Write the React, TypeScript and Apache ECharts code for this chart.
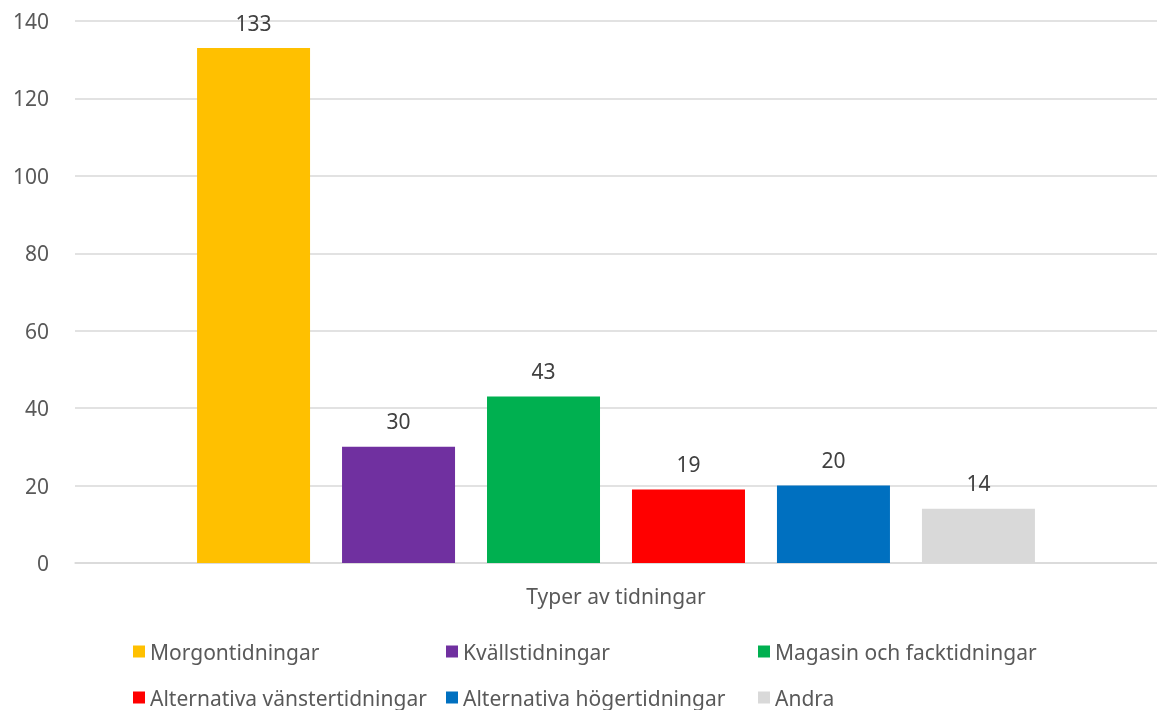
import React, { useEffect, useRef } from "react";
import * as echarts from "echarts";

const category = ["Typer av tidningar"];
const seriesNames = [
  "Morgontidningar",
  "Kvällstidningar",
  "Magasin och facktidningar",
  "Alternativa vänstertidningar",
  "Alternativa högertidningar",
  "Andra",
];
const seriesValues = [133, 30, 43, 19, 20, 14];
const seriesColors = ["#FFC000", "#7030A0", "#00B050", "#FF0000", "#0070C0", "#D9D9D9"];
const yTicks = { min: 0, max: 140, interval: 20 };

const FONT = "'Noto Sans', 'Open Sans', sans-serif";
const legendPos = [
  { left: 133, top: 641 },
  { left: 446, top: 641 },
  { left: 758, top: 641 },
  { left: 133, top: 687 },
  { left: 446, top: 687 },
  { left: 758, top: 687 },
];

export default function App() {
  const ref = useRef<HTMLDivElement>(null);
  useEffect(() => {
    if (!ref.current) return;
    const chart = echarts.init(ref.current, null, { renderer: "svg" });
    chart.setOption({
      animation: false,
      textStyle: { fontFamily: FONT },
      grid: { left: 75, right: -1, top: 21, bottom: 147, containLabel: false },
      legend: seriesNames.map((n, i) => ({
        data: [n],
        left: legendPos[i].left,
        top: legendPos[i].top,
        padding: 0,
        itemWidth: 12,
        itemHeight: 12,
        icon: "rect",
        selectedMode: false,
        textStyle: { fontSize: 21, color: "#595959", fontFamily: FONT },
      })),
      xAxis: {
        type: "category",
        data: category,
        axisLine: { show: true, lineStyle: { color: "#D9D9D9", width: 1.5 } },
        axisTick: { show: false },
        axisLabel: { fontSize: 21, color: "#595959", margin: 22, fontFamily: FONT },
      },
      yAxis: {
        type: "value",
        min: yTicks.min,
        max: yTicks.max,
        interval: yTicks.interval,
        axisLine: { show: false },
        axisTick: { show: false },
        splitLine: { lineStyle: { color: "#D9D9D9", width: 1.5 } },
        axisLabel: { fontSize: 21, color: "#595959", margin: 26, fontFamily: FONT },
      },
      series: seriesNames.map((n, i) => ({
        name: n,
        type: "bar",
        data: [seriesValues[i]],
        barWidth: 113,
        barGap: "28.3%",
        itemStyle: { color: seriesColors[i] },
        label: {
          show: true,
          position: "top",
          distance: 15,
          fontSize: 21,
          color: "#404040",
          fontFamily: FONT,
        },
      })),
    });
    return () => chart.dispose();
  }, []);
  return (
    <div
      ref={ref}
      style={{ position: "fixed", left: 0, top: 0, width: 1157, height: 710 }}
    />
  );
}
